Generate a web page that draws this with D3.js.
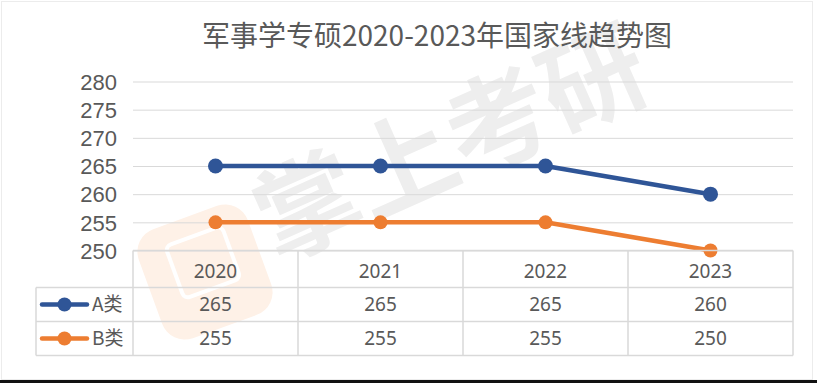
<!DOCTYPE html>
<html>
<head>
<meta charset="utf-8">
<script src="https://cdn.jsdelivr.net/npm/d3@7"></script>
<style>
  body { margin: 0; background: #fff; }
  svg { display: block; }
</style>
</head>
<body>
<svg id="chart" width="817" height="383"></svg>
<script>
// data
const years = ["2020", "2021", "2022", "2023"];
const seriesNames = ["A类", "B类"];
const valuesA = [265, 265, 265, 260];
const valuesB = [255, 255, 255, 250];
const yTicks = [250, 255, 260, 265, 270, 275, 280];

const colors = ["#2F5597", "#ED7D31"];
const textColor = "#595959";
const gridColor = "#d9d9d9";

const width = 817, height = 383;
const plotLeft = 133, plotRight = 793;
const plotTop = 81.5, plotBottom = 250.5;
const rowH = [37, 34, 34]; // header, A, B

let svg = d3.select("#chart");

// frame
svg.append("rect").attr("x", 1.5).attr("y", 1.5).attr("width", 811).attr("height", 378)
  .attr("fill", "#fff").attr("stroke", "#ececec");
svg.append("rect").attr("x", 0).attr("y", 380).attr("width", width).attr("height", 3).attr("fill", "#111");

// watermark
let wm = svg.append("g");
wm.append("rect")
  .attr("x", -58).attr("y", -58).attr("width", 116).attr("height", 116).attr("rx", 24)
  .attr("transform", "translate(205,272) rotate(-20)")
  .attr("fill", "#fef1e7");
wm.append("rect")
  .attr("x", -30).attr("y", -34).attr("width", 60).attr("height", 56).attr("rx", 6)
  .attr("transform", "translate(205,268) rotate(-20)")
  .attr("fill", "none").attr("stroke", "#fff").attr("stroke-width", 4);
wm.append("text")
  .attr("transform", "translate(276,262) rotate(-24)")
  .attr("font-family", "Noto Sans CJK SC")
  .attr("font-weight", "bold")
  .attr("font-size", 104)
  .attr("fill", "#eeeeee")
  .text("掌上考研");

// title
svg.append("text")
  .attr("x", 437).attr("y", 46)
  .attr("text-anchor", "middle")
  .attr("font-family", "Noto Sans CJK SC")
  .attr("font-size", 28)
  .attr("fill", textColor)
  .text("军事学专硕2020-2023年国家线趋势图");

let x = d3.scaleBand().domain(years).range([plotLeft, plotRight]).padding(0);
let y = d3.scaleLinear().domain([250, 280]).range([plotBottom, plotTop]);

// y axis + gridlines
let yAxis = d3.axisLeft(y).tickValues(yTicks).tickSize(-(plotRight - plotLeft)).tickPadding(16);
let yg = svg.append("g").attr("transform", "translate(" + plotLeft + ",0)").call(yAxis);
yg.select(".domain").remove();
yg.selectAll(".tick line").attr("stroke", gridColor);
yg.selectAll(".tick text")
  .attr("font-family", "Liberation Sans, Arial")
  .attr("font-size", 22)
  .attr("fill", textColor)
  .attr("dy", "0.35em");

// lines
let line = d3.line()
  .x((d, i) => x(years[i]) + x.bandwidth() / 2)
  .y(d => y(d));

[valuesA, valuesB].forEach(function(vals, k) {
  svg.append("path")
    .datum(vals)
    .attr("d", line)
    .attr("fill", "none")
    .attr("stroke", colors[k])
    .attr("stroke-width", 4.5)
    .attr("stroke-linejoin", "round");
  svg.selectAll(".pt" + k)
    .data(vals)
    .enter().append("circle")
    .attr("cx", (d, i) => x(years[i]) + x.bandwidth() / 2)
    .attr("cy", d => y(d))
    .attr("r", k == 0 ? 7.5 : 7)
    .attr("fill", colors[k]);
});

// data table
let rowTop = [plotBottom, plotBottom + rowH[0], plotBottom + rowH[0] + rowH[1]];
let tableBottom = rowTop[2] + rowH[2];
let legLeft = 36;
let tg = svg.append("g").attr("stroke", gridColor).attr("stroke-width", 1.5).attr("fill", "none");

// horizontal lines
tg.append("line").attr("x1", plotLeft).attr("x2", plotRight).attr("y1", rowTop[0]).attr("y2", rowTop[0]);
[rowTop[1], rowTop[2], tableBottom].forEach(function(yy) {
  tg.append("line").attr("x1", legLeft).attr("x2", plotRight).attr("y1", yy).attr("y2", yy);
});
// vertical lines
tg.append("line").attr("x1", legLeft).attr("x2", legLeft).attr("y1", rowTop[1]).attr("y2", tableBottom);
years.forEach(function(yr) {
  tg.append("line").attr("x1", x(yr)).attr("x2", x(yr)).attr("y1", rowTop[0]).attr("y2", tableBottom);
});
tg.append("line").attr("x1", plotRight).attr("x2", plotRight).attr("y1", rowTop[0]).attr("y2", tableBottom);

let cellFont = "Noto Sans, Open Sans, sans-serif";

// header
svg.selectAll(".yr")
  .data(years)
  .enter().append("text")
  .attr("x", d => x(d) + x.bandwidth() / 2)
  .attr("y", rowTop[0] + rowH[0] / 2 + 2)
  .attr("dy", "0.35em")
  .attr("text-anchor", "middle")
  .attr("font-family", cellFont)
  .attr("font-size", 19)
  .attr("fill", textColor)
  .text(d => d);

// rows
[valuesA, valuesB].forEach(function(vals, k) {
  let cy = rowTop[k + 1] + rowH[k + 1] / 2;
  svg.selectAll(".v" + k)
    .data(vals)
    .enter().append("text")
    .attr("x", (d, i) => x(years[i]) + x.bandwidth() / 2)
    .attr("y", cy)
    .attr("dy", "0.35em")
    .attr("text-anchor", "middle")
    .attr("font-family", cellFont)
    .attr("font-size", 19)
    .attr("fill", textColor)
    .text(d => d);
  // legend key
  svg.append("line")
    .attr("x1", 42).attr("x2", 87).attr("y1", cy).attr("y2", cy)
    .attr("stroke", colors[k]).attr("stroke-width", 4.5).attr("stroke-linecap", "round");
  svg.append("circle").attr("cx", 64.5).attr("cy", cy).attr("r", 7).attr("fill", colors[k]);
  svg.append("text")
    .attr("x", 92).attr("y", cy)
    .attr("dy", "0.35em")
    .attr("font-family", "Noto Sans CJK SC")
    .attr("font-size", 19)
    .attr("fill", textColor)
    .text(seriesNames[k]);
});
</script>
</body>
</html>
